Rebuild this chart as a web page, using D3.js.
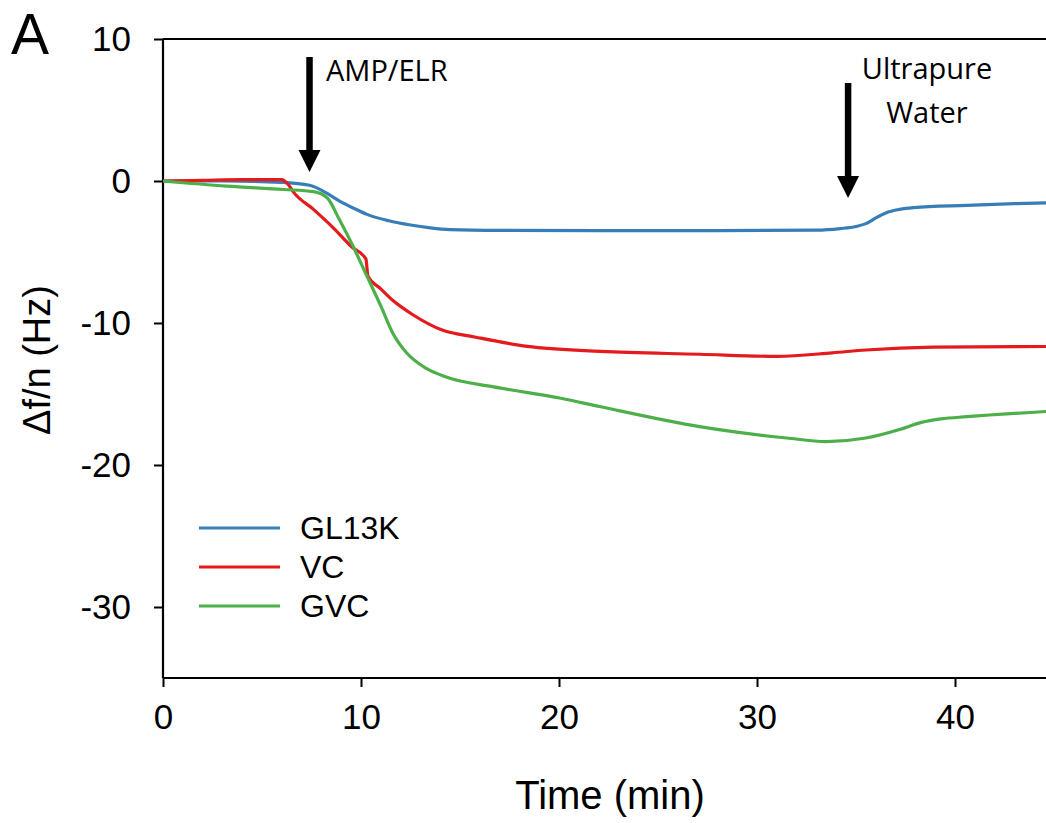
<!DOCTYPE html>
<html>
<head>
<meta charset="utf-8">
<script src="https://d3js.org/d3.v7.min.js"></script>
<style>
  body { margin: 0; background: #fff; }
  text { font-family: "Liberation Sans", Arial, sans-serif; }
  .note { font-family: "Open Sans", sans-serif; }
</style>
</head>
<body>
<script>
// values: [time (min), delta f/n (Hz)]
const gl13k = [[0,0],[3,0],[6,-0.1],[7.4,-0.3],[8.2,-0.8],[8.9,-1.4],[9.6,-1.9],[10.3,-2.35],[11.4,-2.8],[12.5,-3.1],[13.5,-3.3],[14.5,-3.42],[17,-3.48],[22,-3.5],[28,-3.5],[33,-3.46],[34.2,-3.35],[35,-3.2],[35.5,-3.0],[36,-2.6],[36.5,-2.25],[37.2,-2.0],[37.9,-1.88],[40.6,-1.72],[43,-1.6],[45,-1.52]]
const vc = [[0,0],[2,0.05],[4,0.1],[6,0.1],[6.3,-0.2],[6.6,-0.8],[7.6,-2.0],[8.6,-3.3],[9.5,-4.6],[10.25,-5.5],[10.35,-6.7],[11,-7.6],[11.6,-8.4],[12.6,-9.4],[14.1,-10.5],[15.8,-11.0],[18.4,-11.65],[22.1,-12.0],[27.1,-12.2],[31,-12.35],[33.8,-12.1],[35.5,-11.9],[38.9,-11.7],[45,-11.65]]
const gvc = [[0,0],[3.2,-0.36],[6.1,-0.6],[7.6,-0.75],[8.3,-1.2],[8.9,-2.7],[9.6,-4.6],[10.3,-6.7],[11,-8.8],[11.6,-10.7],[12.3,-12.1],[13.3,-13.2],[14.3,-13.8],[16.7,-14.5],[20.1,-15.3],[22.1,-15.9],[27.1,-17.3],[31.5,-18.1],[33.5,-18.35],[35.5,-18.1],[37.2,-17.5],[38.3,-17.0],[39.3,-16.75],[40.6,-16.6],[45,-16.2]]

const seriesNames = ["GL13K", "VC", "GVC"]
const seriesColors = ["#377eb8", "#e41a1c", "#4daf4a"]
const seriesData = [gl13k, vc, gvc]

const xTicks = [0, 10, 20, 30, 40]
const yTicks = [10, 0, -10, -20, -30]

// arrows: [time where they point, label lines]
const arrowTimes = [7.4, 34.6]
const arrowLabels = [["AMP/ELR"], ["Ultrapure", "Water"]]

const w = 1046
const h = 823

const x = d3.scaleLinear().domain([0, 45]).range([163, 1054])
const y = d3.scaleLinear().domain([-35, 10]).range([678, 39])

const svg = d3.select("body").append("svg")
  .attr("width", w)
  .attr("height", h)

// frame (left, bottom, top; right edge is outside the window)
svg.append("line").attr("x1", x(0)).attr("x2", x(45)).attr("y1", y(10)).attr("y2", y(10))
  .attr("stroke", "#000").attr("stroke-width", 2.2)

const xAxis = svg.append("g")
  .attr("transform", `translate(0,${y(-35)})`)
  .call(d3.axisBottom(x).tickValues(xTicks).tickSize(9).tickPadding(17).tickFormat(d => String(d)))
xAxis.select(".domain").attr("stroke-width", 2.2).attr("d", `M${x(0)},0H${x(45)}`)
xAxis.selectAll(".tick line").attr("stroke-width", 2)
xAxis.selectAll("text").attr("font-size", 35).attr("fill", "#000")
  .attr("font-family", "Liberation Sans, Arial, sans-serif")

const yAxis = svg.append("g")
  .attr("transform", `translate(${x(0)},0)`)
  .call(d3.axisLeft(y).tickValues(yTicks).tickSize(9).tickPadding(23).tickFormat(d => String(d)))
yAxis.select(".domain").attr("stroke-width", 2.2).attr("d", `M0,${y(10)}V${y(-35)}`)
yAxis.selectAll(".tick line").attr("stroke-width", 2)
yAxis.selectAll("text").attr("font-size", 35).attr("fill", "#000")
  .attr("font-family", "Liberation Sans, Arial, sans-serif")

// lines
const line = d3.line()
  .x(d => x(d[0]))
  .y(d => y(d[1]))
  .curve(d3.curveMonotoneX)

svg.append("g").selectAll("path")
  .data(seriesData)
  .join("path")
  .attr("d", line)
  .attr("fill", "none")
  .attr("stroke", (d, i) => seriesColors[i])
  .attr("stroke-width", 3.2)
  .attr("stroke-linejoin", "round")

// arrows
const arrowTop = [57, 83]
arrowTimes.forEach((t, i) => {
  const ax = x(t)
  const tip = i == 0 ? 172 : 198
  svg.append("line")
    .attr("x1", ax).attr("x2", ax)
    .attr("y1", arrowTop[i]).attr("y2", tip - 18)
    .attr("stroke", "#000").attr("stroke-width", 6.5)
  svg.append("path")
    .attr("d", `M${ax - 11},${tip - 22}L${ax + 11},${tip - 22}L${ax},${tip}Z`)
    .attr("fill", "#000")
})

svg.append("text").attr("class", "note")
  .attr("x", 326).attr("y", 81)
  .attr("font-size", 29)
  .text(arrowLabels[0][0])

arrowLabels[1].forEach((s, j) => {
  svg.append("text").attr("class", "note")
    .attr("x", 927).attr("y", 79 + j * 44)
    .attr("text-anchor", "middle")
    .attr("font-size", 29)
    .text(s)
})

// legend
const legend = svg.append("g")
seriesNames.forEach((name, i) => {
  const ly = 528 + i * 39
  legend.append("line")
    .attr("x1", 199).attr("x2", 280)
    .attr("y1", ly).attr("y2", ly)
    .attr("stroke", seriesColors[i]).attr("stroke-width", 3.2)
  legend.append("text")
    .attr("x", 300).attr("y", ly + 11)
    .attr("font-size", 32)
    .text(name)
})

// axis titles
svg.append("text")
  .attr("x", 610).attr("y", 809)
  .attr("text-anchor", "middle")
  .attr("font-size", 40)
  .text("Time (min)")

svg.append("text")
  .attr("transform", `translate(50,360) rotate(-90)`)
  .attr("text-anchor", "middle")
  .attr("font-size", 38)
  .text("Δf/n (Hz)")

// panel letter
svg.append("text")
  .attr("x", 11).attr("y", 54)
  .attr("font-size", 57)
  .text("A")
</script>
</body>
</html>
